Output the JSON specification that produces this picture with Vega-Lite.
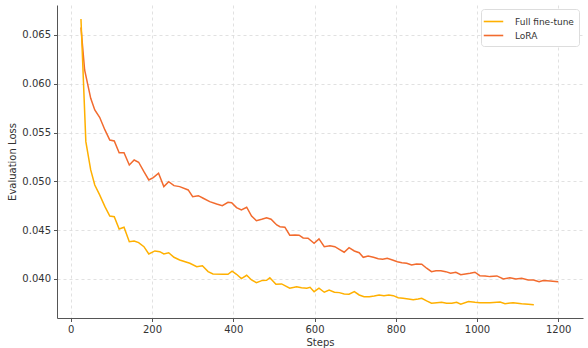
{
  "$schema": "https://vega.github.io/schema/vega-lite/v6.json",
  "width": 526,
  "height": 313,
  "autosize": {"type": "none"},
  "padding": {"left": 57, "top": 5, "right": 5, "bottom": 30},
  "background": "white",
  "config": {
    "view": {"stroke": null},
    "font": "DejaVu Sans",
    "axis": {
      "labelFont": "DejaVu Sans",
      "titleFont": "DejaVu Sans",
      "labelFontSize": 10,
      "titleFontSize": 10,
      "titleFontWeight": "normal",
      "labelColor": "#333333",
      "titleColor": "#333333",
      "domainColor": "#555555",
      "domainWidth": 1,
      "tickColor": "#555555",
      "tickSize": 3.5,
      "gridColor": "#d9d9d9",
      "gridDash": [3, 3],
      "gridWidth": 0.8
    },
    "legend": {
      "labelFont": "DejaVu Sans",
      "labelFontSize": 9,
      "labelColor": "#333333"
    }
  },
  "data": {
    "values": [
      {"step": 25, "loss": 0.06577, "method": "LoRA"},
      {"step": 34, "loss": 0.06141, "method": "LoRA"},
      {"step": 49, "loss": 0.05851, "method": "LoRA"},
      {"step": 59, "loss": 0.05732, "method": "LoRA"},
      {"step": 71, "loss": 0.05657, "method": "LoRA"},
      {"step": 84, "loss": 0.05527, "method": "LoRA"},
      {"step": 96, "loss": 0.05424, "method": "LoRA"},
      {"step": 107, "loss": 0.05414, "method": "LoRA"},
      {"step": 119, "loss": 0.05294, "method": "LoRA"},
      {"step": 131, "loss": 0.05294, "method": "LoRA"},
      {"step": 144, "loss": 0.05168, "method": "LoRA"},
      {"step": 156, "loss": 0.05219, "method": "LoRA"},
      {"step": 167, "loss": 0.05196, "method": "LoRA"},
      {"step": 180, "loss": 0.05099, "method": "LoRA"},
      {"step": 192, "loss": 0.05014, "method": "LoRA"},
      {"step": 203, "loss": 0.05038, "method": "LoRA"},
      {"step": 216, "loss": 0.05083, "method": "LoRA"},
      {"step": 229, "loss": 0.04946, "method": "LoRA"},
      {"step": 241, "loss": 0.04997, "method": "LoRA"},
      {"step": 254, "loss": 0.04956, "method": "LoRA"},
      {"step": 268, "loss": 0.04946, "method": "LoRA"},
      {"step": 289, "loss": 0.04912, "method": "LoRA"},
      {"step": 300, "loss": 0.04843, "method": "LoRA"},
      {"step": 314, "loss": 0.04853, "method": "LoRA"},
      {"step": 326, "loss": 0.04827, "method": "LoRA"},
      {"step": 342, "loss": 0.04792, "method": "LoRA"},
      {"step": 359, "loss": 0.04768, "method": "LoRA"},
      {"step": 373, "loss": 0.04751, "method": "LoRA"},
      {"step": 387, "loss": 0.04786, "method": "LoRA"},
      {"step": 396, "loss": 0.04782, "method": "LoRA"},
      {"step": 408, "loss": 0.04731, "method": "LoRA"},
      {"step": 420, "loss": 0.04707, "method": "LoRA"},
      {"step": 433, "loss": 0.04735, "method": "LoRA"},
      {"step": 445, "loss": 0.04645, "method": "LoRA"},
      {"step": 457, "loss": 0.04597, "method": "LoRA"},
      {"step": 470, "loss": 0.04612, "method": "LoRA"},
      {"step": 482, "loss": 0.04628, "method": "LoRA"},
      {"step": 493, "loss": 0.04612, "method": "LoRA"},
      {"step": 507, "loss": 0.04553, "method": "LoRA"},
      {"step": 515, "loss": 0.04536, "method": "LoRA"},
      {"step": 527, "loss": 0.0453, "method": "LoRA"},
      {"step": 539, "loss": 0.04448, "method": "LoRA"},
      {"step": 552, "loss": 0.04451, "method": "LoRA"},
      {"step": 562, "loss": 0.04448, "method": "LoRA"},
      {"step": 572, "loss": 0.0442, "method": "LoRA"},
      {"step": 584, "loss": 0.04417, "method": "LoRA"},
      {"step": 599, "loss": 0.04366, "method": "LoRA"},
      {"step": 611, "loss": 0.0441, "method": "LoRA"},
      {"step": 624, "loss": 0.04331, "method": "LoRA"},
      {"step": 638, "loss": 0.04341, "method": "LoRA"},
      {"step": 650, "loss": 0.04331, "method": "LoRA"},
      {"step": 661, "loss": 0.04304, "method": "LoRA"},
      {"step": 673, "loss": 0.04274, "method": "LoRA"},
      {"step": 685, "loss": 0.04321, "method": "LoRA"},
      {"step": 698, "loss": 0.04287, "method": "LoRA"},
      {"step": 710, "loss": 0.04269, "method": "LoRA"},
      {"step": 720, "loss": 0.04222, "method": "LoRA"},
      {"step": 732, "loss": 0.04236, "method": "LoRA"},
      {"step": 745, "loss": 0.04222, "method": "LoRA"},
      {"step": 757, "loss": 0.04208, "method": "LoRA"},
      {"step": 768, "loss": 0.04202, "method": "LoRA"},
      {"step": 779, "loss": 0.04212, "method": "LoRA"},
      {"step": 792, "loss": 0.04195, "method": "LoRA"},
      {"step": 804, "loss": 0.04177, "method": "LoRA"},
      {"step": 815, "loss": 0.04167, "method": "LoRA"},
      {"step": 827, "loss": 0.04161, "method": "LoRA"},
      {"step": 839, "loss": 0.04143, "method": "LoRA"},
      {"step": 851, "loss": 0.04154, "method": "LoRA"},
      {"step": 864, "loss": 0.04151, "method": "LoRA"},
      {"step": 876, "loss": 0.0411, "method": "LoRA"},
      {"step": 888, "loss": 0.04075, "method": "LoRA"},
      {"step": 899, "loss": 0.04085, "method": "LoRA"},
      {"step": 911, "loss": 0.04085, "method": "LoRA"},
      {"step": 923, "loss": 0.04075, "method": "LoRA"},
      {"step": 935, "loss": 0.04058, "method": "LoRA"},
      {"step": 948, "loss": 0.04069, "method": "LoRA"},
      {"step": 960, "loss": 0.04044, "method": "LoRA"},
      {"step": 983, "loss": 0.04058, "method": "LoRA"},
      {"step": 995, "loss": 0.04069, "method": "LoRA"},
      {"step": 1007, "loss": 0.04034, "method": "LoRA"},
      {"step": 1020, "loss": 0.04031, "method": "LoRA"},
      {"step": 1032, "loss": 0.04024, "method": "LoRA"},
      {"step": 1049, "loss": 0.04031, "method": "LoRA"},
      {"step": 1065, "loss": 0.04, "method": "LoRA"},
      {"step": 1081, "loss": 0.04013, "method": "LoRA"},
      {"step": 1096, "loss": 0.04, "method": "LoRA"},
      {"step": 1110, "loss": 0.04007, "method": "LoRA"},
      {"step": 1126, "loss": 0.0399, "method": "LoRA"},
      {"step": 1139, "loss": 0.0399, "method": "LoRA"},
      {"step": 1153, "loss": 0.03972, "method": "LoRA"},
      {"step": 1163, "loss": 0.03983, "method": "LoRA"},
      {"step": 1180, "loss": 0.0398, "method": "LoRA"},
      {"step": 1200, "loss": 0.03972, "method": "LoRA"},
      {"step": 25, "loss": 0.06664, "method": "Full fine-tune"},
      {"step": 37, "loss": 0.05407, "method": "Full fine-tune"},
      {"step": 49, "loss": 0.05117, "method": "Full fine-tune"},
      {"step": 59, "loss": 0.04963, "method": "Full fine-tune"},
      {"step": 71, "loss": 0.04861, "method": "Full fine-tune"},
      {"step": 84, "loss": 0.04741, "method": "Full fine-tune"},
      {"step": 96, "loss": 0.04645, "method": "Full fine-tune"},
      {"step": 107, "loss": 0.04638, "method": "Full fine-tune"},
      {"step": 119, "loss": 0.04512, "method": "Full fine-tune"},
      {"step": 131, "loss": 0.0453, "method": "Full fine-tune"},
      {"step": 144, "loss": 0.04382, "method": "Full fine-tune"},
      {"step": 156, "loss": 0.04389, "method": "Full fine-tune"},
      {"step": 167, "loss": 0.04372, "method": "Full fine-tune"},
      {"step": 180, "loss": 0.04331, "method": "Full fine-tune"},
      {"step": 192, "loss": 0.04256, "method": "Full fine-tune"},
      {"step": 207, "loss": 0.04287, "method": "Full fine-tune"},
      {"step": 219, "loss": 0.0428, "method": "Full fine-tune"},
      {"step": 229, "loss": 0.04256, "method": "Full fine-tune"},
      {"step": 241, "loss": 0.04269, "method": "Full fine-tune"},
      {"step": 254, "loss": 0.04222, "method": "Full fine-tune"},
      {"step": 268, "loss": 0.04195, "method": "Full fine-tune"},
      {"step": 293, "loss": 0.04161, "method": "Full fine-tune"},
      {"step": 310, "loss": 0.04126, "method": "Full fine-tune"},
      {"step": 324, "loss": 0.04136, "method": "Full fine-tune"},
      {"step": 338, "loss": 0.04075, "method": "Full fine-tune"},
      {"step": 350, "loss": 0.04051, "method": "Full fine-tune"},
      {"step": 375, "loss": 0.04048, "method": "Full fine-tune"},
      {"step": 387, "loss": 0.04048, "method": "Full fine-tune"},
      {"step": 397, "loss": 0.04079, "method": "Full fine-tune"},
      {"step": 408, "loss": 0.04048, "method": "Full fine-tune"},
      {"step": 420, "loss": 0.04003, "method": "Full fine-tune"},
      {"step": 433, "loss": 0.04038, "method": "Full fine-tune"},
      {"step": 445, "loss": 0.0399, "method": "Full fine-tune"},
      {"step": 457, "loss": 0.03962, "method": "Full fine-tune"},
      {"step": 470, "loss": 0.03983, "method": "Full fine-tune"},
      {"step": 482, "loss": 0.03987, "method": "Full fine-tune"},
      {"step": 490, "loss": 0.04013, "method": "Full fine-tune"},
      {"step": 505, "loss": 0.03946, "method": "Full fine-tune"},
      {"step": 519, "loss": 0.03949, "method": "Full fine-tune"},
      {"step": 539, "loss": 0.03905, "method": "Full fine-tune"},
      {"step": 556, "loss": 0.03921, "method": "Full fine-tune"},
      {"step": 568, "loss": 0.03911, "method": "Full fine-tune"},
      {"step": 581, "loss": 0.03905, "method": "Full fine-tune"},
      {"step": 589, "loss": 0.03915, "method": "Full fine-tune"},
      {"step": 599, "loss": 0.0387, "method": "Full fine-tune"},
      {"step": 611, "loss": 0.03905, "method": "Full fine-tune"},
      {"step": 624, "loss": 0.03864, "method": "Full fine-tune"},
      {"step": 636, "loss": 0.03887, "method": "Full fine-tune"},
      {"step": 649, "loss": 0.03864, "method": "Full fine-tune"},
      {"step": 661, "loss": 0.0386, "method": "Full fine-tune"},
      {"step": 673, "loss": 0.03846, "method": "Full fine-tune"},
      {"step": 685, "loss": 0.03843, "method": "Full fine-tune"},
      {"step": 698, "loss": 0.0387, "method": "Full fine-tune"},
      {"step": 710, "loss": 0.03836, "method": "Full fine-tune"},
      {"step": 722, "loss": 0.03819, "method": "Full fine-tune"},
      {"step": 735, "loss": 0.03819, "method": "Full fine-tune"},
      {"step": 747, "loss": 0.03826, "method": "Full fine-tune"},
      {"step": 759, "loss": 0.03836, "method": "Full fine-tune"},
      {"step": 771, "loss": 0.03829, "method": "Full fine-tune"},
      {"step": 783, "loss": 0.03836, "method": "Full fine-tune"},
      {"step": 794, "loss": 0.03829, "method": "Full fine-tune"},
      {"step": 806, "loss": 0.03808, "method": "Full fine-tune"},
      {"step": 818, "loss": 0.03802, "method": "Full fine-tune"},
      {"step": 831, "loss": 0.03795, "method": "Full fine-tune"},
      {"step": 843, "loss": 0.03788, "method": "Full fine-tune"},
      {"step": 855, "loss": 0.03795, "method": "Full fine-tune"},
      {"step": 864, "loss": 0.03802, "method": "Full fine-tune"},
      {"step": 876, "loss": 0.03775, "method": "Full fine-tune"},
      {"step": 888, "loss": 0.03751, "method": "Full fine-tune"},
      {"step": 901, "loss": 0.03757, "method": "Full fine-tune"},
      {"step": 913, "loss": 0.03761, "method": "Full fine-tune"},
      {"step": 925, "loss": 0.03751, "method": "Full fine-tune"},
      {"step": 938, "loss": 0.03751, "method": "Full fine-tune"},
      {"step": 950, "loss": 0.03761, "method": "Full fine-tune"},
      {"step": 960, "loss": 0.03741, "method": "Full fine-tune"},
      {"step": 979, "loss": 0.03768, "method": "Full fine-tune"},
      {"step": 995, "loss": 0.03761, "method": "Full fine-tune"},
      {"step": 1007, "loss": 0.03757, "method": "Full fine-tune"},
      {"step": 1032, "loss": 0.03757, "method": "Full fine-tune"},
      {"step": 1057, "loss": 0.03764, "method": "Full fine-tune"},
      {"step": 1069, "loss": 0.03747, "method": "Full fine-tune"},
      {"step": 1089, "loss": 0.03757, "method": "Full fine-tune"},
      {"step": 1110, "loss": 0.03747, "method": "Full fine-tune"},
      {"step": 1126, "loss": 0.03741, "method": "Full fine-tune"},
      {"step": 1140, "loss": 0.03737, "method": "Full fine-tune"}
    ]
  },
  "mark": {"type": "line", "strokeWidth": 1.5, "clip": true},
  "encoding": {
    "x": {
      "field": "step",
      "type": "quantitative",
      "scale": {"domain": [-34, 1261], "nice": false, "zero": false},
      "axis": {
        "title": "Steps",
        "values": [0, 200, 400, 600, 800, 1000, 1200],
        "format": "d",
        "labelPadding": 3,
        "titlePadding": 3
      }
    },
    "y": {
      "field": "loss",
      "type": "quantitative",
      "scale": {"domain": [0.036, 0.06807], "nice": false, "zero": false},
      "axis": {
        "title": "Evaluation Loss",
        "values": [0.04, 0.045, 0.05, 0.055, 0.06, 0.065],
        "format": ".3f",
        "labelPadding": 3,
        "titlePadding": 4
      }
    },
    "color": {
      "field": "method",
      "type": "nominal",
      "scale": {"domain": ["Full fine-tune", "LoRA"], "range": ["#FFB000", "#F26B2E"]},
      "legend": {
        "title": null,
        "orient": "none",
        "legendX": 424,
        "legendY": 4,
        "symbolType": "M-1.5,0H1.5",
        "symbolSize": 169,
        "symbolStrokeWidth": 1.6,
        "fillColor": "white",
        "strokeColor": "#dddddd",
        "padding": 5,
        "cornerRadius": 3,
        "rowPadding": 1,
        "labelOffset": 14
      }
    }
  }
}
